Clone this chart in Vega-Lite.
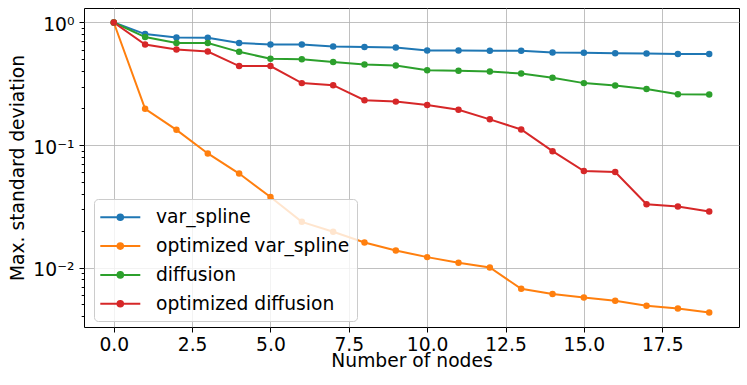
{
  "$schema": "https://vega.github.io/schema/vega-lite/v6.json",
  "width": 655,
  "height": 319,
  "autosize": "none",
  "padding": {"left": 84, "top": 8, "right": 8, "bottom": 58},
  "background": "white",
  "config": {
    "view": {"stroke": "black", "strokeWidth": 1},
    "axis": {
      "labelFont": "DejaVu Sans", "titleFont": "DejaVu Sans",
      "labelFontSize": 18.7, "titleFontSize": 18.7,
      "labelColor": "black", "titleColor": "black",
      "titleFontWeight": "normal",
      "tickColor": "black", "tickSize": 5, "tickWidth": 1,
      "domain": false,
      "gridColor": "#b0b0b0", "gridWidth": 0.8
    }
  },
  "data": {"values": [
    {"n":0,"s":"var_spline","v":1.0},{"n":1,"s":"var_spline","v":0.804},{"n":2,"s":"var_spline","v":0.755},{"n":3,"s":"var_spline","v":0.75},{"n":4,"s":"var_spline","v":0.679},{"n":5,"s":"var_spline","v":0.661},{"n":6,"s":"var_spline","v":0.661},{"n":7,"s":"var_spline","v":0.637},{"n":8,"s":"var_spline","v":0.63},{"n":9,"s":"var_spline","v":0.625},{"n":10,"s":"var_spline","v":0.591},{"n":11,"s":"var_spline","v":0.591},{"n":12,"s":"var_spline","v":0.588},{"n":13,"s":"var_spline","v":0.588},{"n":14,"s":"var_spline","v":0.569},{"n":15,"s":"var_spline","v":0.566},{"n":16,"s":"var_spline","v":0.562},{"n":17,"s":"var_spline","v":0.559},{"n":18,"s":"var_spline","v":0.552},{"n":19,"s":"var_spline","v":0.552},
    {"n":0,"s":"optimized var_spline","v":1.0},{"n":1,"s":"optimized var_spline","v":0.1975},{"n":2,"s":"optimized var_spline","v":0.133},{"n":3,"s":"optimized var_spline","v":0.0853},{"n":4,"s":"optimized var_spline","v":0.0585},{"n":5,"s":"optimized var_spline","v":0.0376},{"n":6,"s":"optimized var_spline","v":0.0236},{"n":7,"s":"optimized var_spline","v":0.0196},{"n":8,"s":"optimized var_spline","v":0.016},{"n":9,"s":"optimized var_spline","v":0.01377},{"n":10,"s":"optimized var_spline","v":0.01216},{"n":11,"s":"optimized var_spline","v":0.01092},{"n":12,"s":"optimized var_spline","v":0.01},{"n":13,"s":"optimized var_spline","v":0.0067},{"n":14,"s":"optimized var_spline","v":0.00607},{"n":15,"s":"optimized var_spline","v":0.00569},{"n":16,"s":"optimized var_spline","v":0.00535},{"n":17,"s":"optimized var_spline","v":0.00487},{"n":18,"s":"optimized var_spline","v":0.00463},{"n":19,"s":"optimized var_spline","v":0.0043},
    {"n":0,"s":"diffusion","v":1.0},{"n":1,"s":"diffusion","v":0.76},{"n":2,"s":"diffusion","v":0.679},{"n":3,"s":"diffusion","v":0.679},{"n":4,"s":"diffusion","v":0.576},{"n":5,"s":"diffusion","v":0.506},{"n":6,"s":"diffusion","v":0.502},{"n":7,"s":"diffusion","v":0.475},{"n":8,"s":"diffusion","v":0.454},{"n":9,"s":"diffusion","v":0.446},{"n":10,"s":"diffusion","v":0.408},{"n":11,"s":"diffusion","v":0.403},{"n":12,"s":"diffusion","v":0.398},{"n":13,"s":"diffusion","v":0.383},{"n":14,"s":"diffusion","v":0.354},{"n":15,"s":"diffusion","v":0.32},{"n":16,"s":"diffusion","v":0.306},{"n":17,"s":"diffusion","v":0.286},{"n":18,"s":"diffusion","v":0.26},{"n":19,"s":"diffusion","v":0.258},
    {"n":0,"s":"optimized diffusion","v":1.0},{"n":1,"s":"optimized diffusion","v":0.661},{"n":2,"s":"optimized diffusion","v":0.602},{"n":3,"s":"optimized diffusion","v":0.58},{"n":4,"s":"optimized diffusion","v":0.441},{"n":5,"s":"optimized diffusion","v":0.441},{"n":6,"s":"optimized diffusion","v":0.32},{"n":7,"s":"optimized diffusion","v":0.308},{"n":8,"s":"optimized diffusion","v":0.232},{"n":9,"s":"optimized diffusion","v":0.226},{"n":10,"s":"optimized diffusion","v":0.212},{"n":11,"s":"optimized diffusion","v":0.194},{"n":12,"s":"optimized diffusion","v":0.162},{"n":13,"s":"optimized diffusion","v":0.134},{"n":14,"s":"optimized diffusion","v":0.0891},{"n":15,"s":"optimized diffusion","v":0.0613},{"n":16,"s":"optimized diffusion","v":0.0601},{"n":17,"s":"optimized diffusion","v":0.0329},{"n":18,"s":"optimized diffusion","v":0.0315},{"n":19,"s":"optimized diffusion","v":0.0286}
  ]},
  "encoding": {
    "x": {"field": "n", "type": "quantitative",
      "scale": {"domain": [-0.95, 19.95], "nice": false, "zero": false},
      "axis": {"values": [0, 2.5, 5, 7.5, 10, 12.5, 15, 17.5], "format": ".1f",
        "title": "Number of nodes", "labelBaseline": "alphabetic", "labelPadding": 18.7,
        "labelFlush": false, "titleBaseline": "alphabetic", "titleY": 39.5, "titleX": 327.5}},
    "color": {"field": "s", "type": "nominal",
      "scale": {"domain": ["var_spline", "optimized var_spline", "diffusion", "optimized diffusion"],
        "range": ["#1f77b4", "#ff7f0e", "#2ca02c", "#d62728"]},
      "legend": {"orient": "none", "legendX": 10, "legendY": 191, "title": null,
        "symbolType": "M-1.2,0H2.8M0.52,0A0.28,0.28,0,1,1,1.08,0A0.28,0.28,0,1,1,0.52,0Z",
        "symbolSize": 400, "symbolStrokeWidth": 2, "labelOffset": 32.7, "rowPadding": 7.8,
        "padding": 7.3, "fillColor": "rgba(255,255,255,0.8)", "strokeColor": "#cccccc",
        "cornerRadius": 4, "labelFontSize": 18.7, "labelFont": "DejaVu Sans", "labelColor": "black",
        "labelLimit": 400,
        "encode": {"symbols": {"update": {"fill": {"scale": "color", "field": "value"}, "stroke": {"scale": "color", "field": "value"}, "opacity": {"value": 1}}}}}}
  },
  "layer": [
    {"mark": {"type": "line", "strokeWidth": 2},
     "encoding": {"y": {"field": "v", "type": "quantitative",
       "scale": {"type": "log", "domain": [0.00327, 1.313], "nice": false},
       "axis": {"values": [1, 0.1, 0.01], "grid": true,
         "labelExpr": "datum.value > 0.5 ? '10⁰' : datum.value > 0.05 ? '10⁻¹' : '10⁻²'",
         "labelBaseline": "middle", "labelOffset": 2, "labelPadding": 5,
         "title": "Max. standard deviation", "titleAngle": -90, "titleBaseline": "alphabetic",
         "titleX": -60.5, "titleY": 159.5}}}},
    {"mark": {"type": "point", "filled": true, "size": 42, "opacity": 1},
     "encoding": {"y": {"field": "v", "type": "quantitative", "axis": null}}},
    {"mark": {"type": "point", "opacity": 0},
     "encoding": {"y": {"field": "v", "type": "quantitative",
       "axis": {"orient": "left", "values": [0.004,0.005,0.006,0.007,0.008,0.009,0.02,0.03,0.04,0.05,0.06,0.07,0.08,0.09,0.2,0.3,0.4,0.5,0.6,0.7,0.8,0.9],
         "labels": false, "grid": false, "tickSize": 2.8, "title": null}}}}
  ],
  "resolve": {"axis": {"y": "independent"}}
}
